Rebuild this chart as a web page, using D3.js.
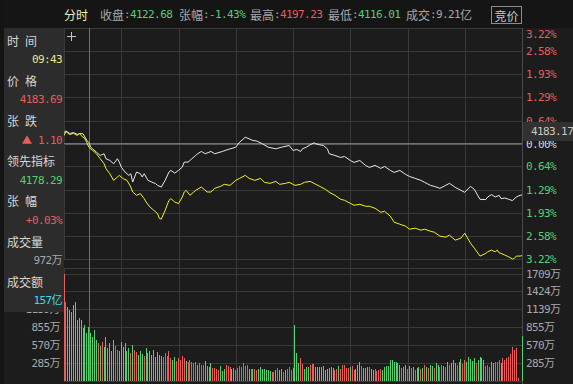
<!DOCTYPE html>
<html>
<head>
<meta charset="utf-8">
<script src="https://cdn.jsdelivr.net/npm/d3@7"></script>
<style>
  html, body { margin: 0; padding: 0; background: #1c1c1c; }
  svg { display: block; }
  .mono { font-family: "DejaVu Sans Mono", "Noto Sans CJK SC", monospace; font-size: 11px; letter-spacing: -0.6px; }
  .cjk { font-family: "Noto Sans CJK SC", sans-serif; font-size: 12px; }
</style>
</head>
<body>
<svg id="chart" width="573" height="384"></svg>
<script>
// minutes since the open: 0 = 09:30, 120 = 11:30 / 13:00, 240 = 15:00
const prevClose = 4182.59;

const indexMinutes = [0, 1, 3, 5, 7, 8, 10, 12, 13, 14, 15, 17, 19, 21, 22, 24, 26, 28, 29, 30, 32, 34, 35, 36, 38, 40, 41, 42, 44, 46, 48, 49, 51, 53, 55, 56, 58, 60, 62, 63, 65, 67, 69, 70, 72, 74, 77, 79, 83, 86, 90, 92, 95, 97, 99, 101, 104, 107, 111, 114, 118, 120, 122, 124, 125, 127, 129, 131, 132, 134, 136, 138, 139, 142, 145, 147, 150, 152, 155, 158, 160, 163, 166, 168, 171, 173, 176, 179, 181, 184, 187, 189, 192, 194, 197, 200, 202, 205, 208, 210, 213, 215, 218, 221, 222, 224, 226, 228, 229, 231, 233, 235, 237, 239, 240];
const indexPrices = [4195.37, 4197.23, 4194.21, 4195.37, 4193.05, 4194.21, 4193.86, 4186.08, 4183.69, 4178.30, 4176.43, 4172.48, 4168.65, 4170.62, 4164.81, 4162.84, 4159.00, 4164.81, 4160.86, 4155.06, 4149.25, 4145.42, 4147.39, 4137.63, 4149.25, 4147.39, 4143.44, 4147.39, 4139.60, 4137.63, 4135.77, 4133.79, 4131.82, 4139.60, 4149.25, 4151.22, 4148.08, 4151.22, 4155.06, 4160.86, 4160.86, 4164.81, 4168.65, 4170.62, 4173.30, 4170.62, 4173.30, 4170.62, 4173.30, 4175.62, 4178.29, 4184.10, 4189.91, 4188.05, 4186.08, 4185.50, 4182.24, 4178.29, 4176.43, 4178.29, 4180.27, 4174.46, 4175.62, 4173.30, 4176.43, 4178.29, 4181.08, 4183.40, 4182.24, 4181.08, 4180.27, 4176.43, 4170.62, 4168.65, 4166.32, 4167.49, 4162.84, 4160.52, 4162.84, 4157.03, 4154.71, 4157.03, 4153.55, 4155.87, 4151.22, 4148.90, 4151.22, 4146.57, 4144.25, 4141.93, 4139.60, 4137.28, 4133.79, 4132.63, 4130.31, 4133.79, 4136.12, 4131.47, 4127.99, 4125.66, 4132.63, 4129.15, 4117.50, 4117.18, 4120.20, 4122.99, 4120.20, 4122.18, 4118.34, 4119.04, 4117.53, 4116.01, 4120.20, 4122.18, 4122.68];

const leadMinutes = [0, 1, 3, 5, 7, 8, 9, 11, 12, 13, 15, 17, 19, 21, 22, 24, 26, 28, 29, 31, 33, 35, 36, 38, 40, 42, 43, 45, 47, 49, 50, 51, 53, 55, 56, 58, 60, 62, 63, 64, 66, 68, 69, 72, 75, 77, 79, 82, 84, 87, 90, 92, 95, 97, 100, 103, 105, 108, 111, 113, 116, 118, 121, 124, 126, 129, 132, 134, 137, 139, 142, 145, 147, 150, 152, 155, 158, 160, 163, 166, 168, 171, 173, 176, 179, 181, 184, 187, 189, 192, 194, 197, 200, 202, 205, 208, 210, 213, 215, 218, 221, 222, 224, 226, 227, 228, 229, 231, 233, 235, 236, 237, 239, 240];
const leadPrices = [4191.88, 4196.53, 4193.05, 4194.56, 4191.88, 4194.56, 4191.88, 4188.05, 4183.50, 4178.29, 4174.46, 4170.62, 4164.81, 4159.00, 4153.20, 4147.39, 4139.60, 4143.44, 4145.41, 4141.58, 4139.60, 4131.82, 4126.01, 4122.18, 4124.15, 4118.34, 4114.39, 4108.58, 4104.75, 4100.91, 4095.11, 4094.50, 4104.75, 4116.37, 4118.34, 4114.39, 4112.53, 4120.20, 4126.01, 4127.98, 4122.18, 4126.01, 4127.98, 4131.82, 4126.01, 4126.01, 4130.31, 4132.63, 4134.96, 4133.79, 4139.60, 4141.93, 4145.41, 4141.93, 4139.60, 4141.93, 4137.28, 4136.12, 4138.44, 4134.96, 4136.12, 4137.28, 4133.79, 4134.96, 4137.28, 4138.44, 4134.96, 4132.63, 4129.15, 4125.66, 4122.18, 4117.53, 4116.37, 4112.88, 4110.56, 4111.72, 4109.40, 4109.40, 4107.07, 4102.43, 4103.59, 4097.78, 4090.81, 4088.48, 4086.16, 4082.67, 4083.84, 4081.51, 4082.67, 4080.35, 4079.19, 4074.54, 4073.38, 4075.70, 4069.90, 4072.22, 4078.03, 4066.41, 4060.60, 4051.31, 4054.44, 4056.30, 4058.27, 4056.30, 4058.27, 4055.14, 4054.44, 4052.47, 4050.49, 4047.91, 4048.63, 4051.31, 4051.31, 4051.80];

// volume per minute (万), r = up minute, g = down minute
const volume = [
  1709, 1250, 1175, 1123, 1096, 1202, 1255, 965, 997, 965, 838, 886, 759, 859, 759, 701, 807, 649, 600,
  560, 620, 540, 700, 520, 600, 480, 650, 560, 500, 470, 620, 540, 600, 480, 520, 440, 580, 500, 460,
  420, 480, 430, 400, 520, 450, 480, 420, 500, 380, 460, 420, 400, 380, 450, 400, 480, 360, 340, 380,
  320, 360, 340, 400, 360, 320, 300, 340, 310, 280, 300, 260, 280, 250,
  253, 316, 237, 216, 279, 200, 211, 184, 174, 237, 163, 184, 253, 237, 216, 184, 206, 174, 200, 237,
  216, 279, 237, 253, 195, 184, 184, 184, 174, 195, 216, 184, 195, 174, 174, 163, 142, 148, 174, 206,
  174, 195, 148, 174, 184, 216, 174, 200, 886, 438, 290, 364, 269, 195, 227, 216, 253, 269, 269, 216,
  216, 216, 216, 237, 174, 195, 206, 216, 200, 174, 184, 237, 184, 248, 248, 200, 206, 216, 237, 174,
  195, 253, 301, 237, 200, 206, 216, 216, 184, 174, 184, 163, 174, 195, 174, 216, 237, 237, 332, 332,
  306,
  300, 280, 250, 200, 230, 260, 190, 240, 210, 220, 180, 200, 230, 190, 210, 250, 230, 200, 260, 240,
  210, 280, 250, 220, 260, 240, 230, 300, 260, 280, 330, 290, 250, 310, 350, 270, 330, 300, 380, 350,
  320, 360, 280, 330,
  385, 360, 330, 240, 253, 230, 306, 280, 306, 300, 332, 290, 359, 340, 369, 380, 422, 543, 500, 527,
  43, 0, 717
];
const volumeSide = (
  "rrggggggggggggggggr" +
  "grggggggrrggggggrgrrgggrgggggggggrrrrrggrrrrrgrrrrrgr" + "r" +
  "rggggrrrrgggrrrggrrrrrrrgrgrrgggggggrrgrggrgrrrggggrrgggrrrg" +
  "gggggggggrrgrrrrrgrrgggrgggrggrrrrggggggg" +
  "gggrggrgrgrggrgrgrggrggrrgrgrgggrggrrgggggrg" +
  "gggrrrggrrrgrrrrrrrrrrg"
).split("");

const timeTicks = [30, 60, 90, 120, 150, 180, 210];
const pctTicks = [3.22, 2.58, 1.93, 1.29, 0.64, 0, -0.64, -1.29, -1.93, -2.58, -3.22];
const volTicks = [285, 570, 855, 1139, 1424, 1709];

const infoLabels = ["时间", "价格", "张跌", "领先指标", "张幅", "成交量", "成交额"];
const infoValues = ["09:43", "4183.69", "1.10", "4178.29", "+0.03%", "972万", "157亿"];
const cursorMinute = 13;
const cursorPrice = 4183.17;

const RED = "#e85c5c";
const GREEN = "#55cf72";
const GRID = "#393939";
const GREY = "#a8a8a8";

const svg = d3.select("#chart");
const left = 64, right = 522;
const priceTop = 28, priceBottom = 259;
const volPanelTop = 268, volTop = 273.5, volBottom = 381;
const boxBottom = 312;

const x = d3.scaleLinear().domain([0, 240]).range([left, right]);
const yPrice = d3
  .scaleLinear()
  .domain([prevClose * (1 - 0.0322), prevClose * (1 + 0.0322)])
  .range([priceBottom, priceTop]);
const yVol = d3.scaleLinear().domain([0, 1709]).range([volBottom, volTop]);
const pctPrice = (p) => prevClose * (1 + p / 100);

svg.append("rect").attr("width", 573).attr("height", 384).attr("fill", "#1c1c1c");

// grid
const grid = svg.append("g").attr("stroke", GRID).attr("stroke-width", 1).attr("shape-rendering", "crispEdges");
grid
  .selectAll(".vgrid")
  .data(timeTicks)
  .enter()
  .append("line")
  .attr("x1", (d) => Math.round(x(d)) + 0.5)
  .attr("x2", (d) => Math.round(x(d)) + 0.5)
  .attr("y1", priceTop)
  .attr("y2", volBottom);
grid
  .selectAll(".hgrid")
  .data(pctTicks.slice(1, -1))
  .enter()
  .append("line")
  .attr("x1", left)
  .attr("x2", right)
  .attr("y1", (d) => Math.round(yPrice(pctPrice(d))) + 0.5)
  .attr("y2", (d) => Math.round(yPrice(pctPrice(d))) + 0.5)
  .attr("stroke", (d) => (d === 0 ? "#5a5a5a" : GRID));
grid
  .selectAll(".vol-grid")
  .data(volTicks)
  .enter()
  .append("line")
  .attr("x1", left)
  .attr("x2", right)
  .attr("y1", (d) => Math.round(yVol(d)) + 0.5)
  .attr("y2", (d) => Math.round(yVol(d)) + 0.5);
grid.append("rect").attr("x", left + 0.5).attr("y", priceTop + 0.5).attr("width", right - left).attr("height", priceBottom - priceTop).attr("fill", "none");
grid.append("rect").attr("x", left + 0.5).attr("y", volPanelTop + 0.5).attr("width", right - left).attr("height", volBottom - volPanelTop).attr("fill", "none");
grid.append("line").attr("x1", right + 0.5).attr("x2", right + 0.5).attr("y1", priceTop).attr("y2", 384).attr("stroke", "#4a4a4a");

// crosshair
svg
  .append("line")
  .attr("x1", Math.round(x(cursorMinute)) + 0.5)
  .attr("x2", Math.round(x(cursorMinute)) + 0.5)
  .attr("y1", priceTop)
  .attr("y2", volBottom)
  .attr("stroke", "#707070")
  .attr("shape-rendering", "crispEdges");
svg
  .append("line")
  .attr("x1", left)
  .attr("x2", right)
  .attr("y1", Math.round(yPrice(cursorPrice)) + 0.5)
  .attr("y2", Math.round(yPrice(cursorPrice)) + 0.5)
  .attr("stroke", "#707070")
  .attr("shape-rendering", "crispEdges");

// plus marker
svg.append("path").attr("d", "M67,36.5H76M71.5,32V41").attr("stroke", "#c8c8c8").attr("fill", "none");

// volume bars
svg
  .append("g")
  .attr("shape-rendering", "crispEdges")
  .selectAll("rect")
  .data(volume)
  .enter()
  .append("rect")
  .attr("x", (d, i) => Math.round(x(i) - 0.5))
  .attr("width", 1)
  .attr("y", (d) => yVol(d))
  .attr("height", (d) => volBottom - yVol(d))
  .attr("fill", (d, i) => (volumeSide[i] === "r" ? RED : GREEN));

// lines
const line = d3
  .line()
  .x((d) => x(d[0]))
  .y((d) => yPrice(d[1]));
svg
  .append("path")
  .attr("fill", "none")
  .attr("stroke", "#e8e8e8")
  .attr("stroke-width", 1)
  .attr("d", line(indexMinutes.map((m, i) => [m, indexPrices[i]])));
svg
  .append("path")
  .attr("fill", "none")
  .attr("stroke", "#f0f02a")
  .attr("stroke-width", 1)
  .attr("d", line(leadMinutes.map((m, i) => [m, leadPrices[i]])));

// right price axis
const priceAxis = svg
  .append("g")
  .attr("transform", `translate(${right}, 0)`)
  .call(
    d3
      .axisRight(yPrice)
      .tickValues(pctTicks.map(pctPrice))
      .tickSize(0)
      .tickPadding(4)
      .tickFormat((d) => Math.abs((d / prevClose - 1) * 100).toFixed(2) + "%")
  );
priceAxis.select(".domain").remove();
priceAxis
  .selectAll("text")
  .attr("class", "mono")
  .attr("font-family", null)
  .attr("font-size", null)
  .attr("fill", (d, i) => (pctTicks[i] > 0 ? RED : pctTicks[i] < 0 ? GREEN : "#d8d8d8"))
  .attr("dy", (d, i) => (i === 0 ? 9.5 : "0.32em"));

// volume axes (left labels that sit fully under the info box are not drawn)
const volAxisRight = svg
  .append("g")
  .attr("transform", `translate(${right}, 0)`)
  .call(d3.axisRight(yVol).tickValues(volTicks).tickSize(0).tickPadding(4).tickFormat((d) => d + "万"));
const volAxisLeft = svg
  .append("g")
  .attr("transform", `translate(${left}, 0)`)
  .call(
    d3
      .axisLeft(yVol)
      .tickValues(volTicks.filter((v) => yVol(v) > boxBottom - 6))
      .tickSize(0)
      .tickPadding(4)
      .tickFormat((d) => d + "万")
  );
[volAxisRight, volAxisLeft].forEach((g) => {
  g.select(".domain").remove();
  g.selectAll("text").attr("class", "mono").attr("font-family", null).attr("font-size", null).attr("fill", GREY);
});

// cursor price tag
svg.append("rect").attr("x", right + 1).attr("y", 122).attr("width", 52).attr("height", 19).attr("fill", "#313131");
svg
  .append("text")
  .attr("class", "mono")
  .attr("x", 531)
  .attr("y", 131.5)
  .attr("dominant-baseline", "central")
  .attr("fill", "#c8c8c8")
  .text(cursorPrice.toFixed(2));

// top bar
svg.append("rect").attr("width", 573).attr("height", priceTop).attr("fill", "#151515");
svg.append("rect").attr("width", 4).attr("height", 384).attr("fill", "#141414");
const header = [
  { label: "收盘", x: 100, value: "4122.68", color: GREEN },
  { label: "张幅", x: 179, value: "-1.43%", color: GREEN },
  { label: "最高", x: 250, value: "4197.23", color: RED },
  { label: "最低", x: 328, value: "4116.01", color: GREEN },
  { label: "成交", x: 406, value: "9.21", color: GREY },
];
svg
  .append("text")
  .attr("class", "cjk")
  .attr("x", 64)
  .attr("y", 14)
  .attr("dominant-baseline", "central")
  .attr("fill", "#ecebc0")
  .text("分时");
header.forEach((h) => {
  svg
    .append("text")
    .attr("class", "cjk")
    .attr("x", h.x)
    .attr("y", 14)
    .attr("dominant-baseline", "central")
    .attr("fill", GREY)
    .text(h.label);
  const t = svg
    .append("text")
    .attr("class", "mono")
    .attr("x", h.x + 24)
    .attr("y", 14)
    .attr("dominant-baseline", "central");
  t.append("tspan").attr("fill", GREY).text(":");
  t.append("tspan").attr("fill", h.color).text(h.value);
});
svg.append("text").attr("class", "cjk").attr("x", 460).attr("y", 14).attr("dominant-baseline", "central").attr("fill", GREY).text("亿");
svg.append("rect").attr("x", 491.5).attr("y", 6.5).attr("width", 30).attr("height", 17).attr("fill", "none").attr("stroke", "#8c8c8c");
svg
  .append("text")
  .attr("class", "cjk")
  .attr("x", 506.5)
  .attr("y", 15)
  .attr("text-anchor", "middle")
  .attr("dominant-baseline", "central")
  .attr("fill", "#c8c8c8")
  .text("竞价");

// info box
svg.append("rect").attr("x", 4).attr("y", priceTop).attr("width", 60).attr("height", boxBottom - priceTop).attr("fill", "#2c2c2c");
const valueColors = ["#e6e68a", RED, RED, GREEN, RED, GREY, "#45d6ee"];
infoLabels.forEach((lab, i) => {
  const cy = 40 + i * 40.2;
  svg
    .append("text")
    .attr("class", "cjk")
    .attr("x", 7)
    .attr("y", cy)
    .attr("dominant-baseline", "central")
    .attr("fill", "#d6d6d6")
    .style("letter-spacing", lab.length === 2 ? "6px" : "0px")
    .text(lab);
  svg
    .append("text")
    .attr("class", "mono")
    .attr("x", 62)
    .attr("y", cy + 19.7)
    .attr("text-anchor", "end")
    .attr("dominant-baseline", "central")
    .attr("fill", valueColors[i])
    .text(infoValues[i]);
});
svg
  .append("path")
  .attr("transform", `translate(27, ${40 + 2 * 40.2 + 20.5})`)
  .attr("d", d3.symbol().type(d3.symbolTriangle).size(42))
  .attr("fill", RED);
</script>
</body>
</html>
